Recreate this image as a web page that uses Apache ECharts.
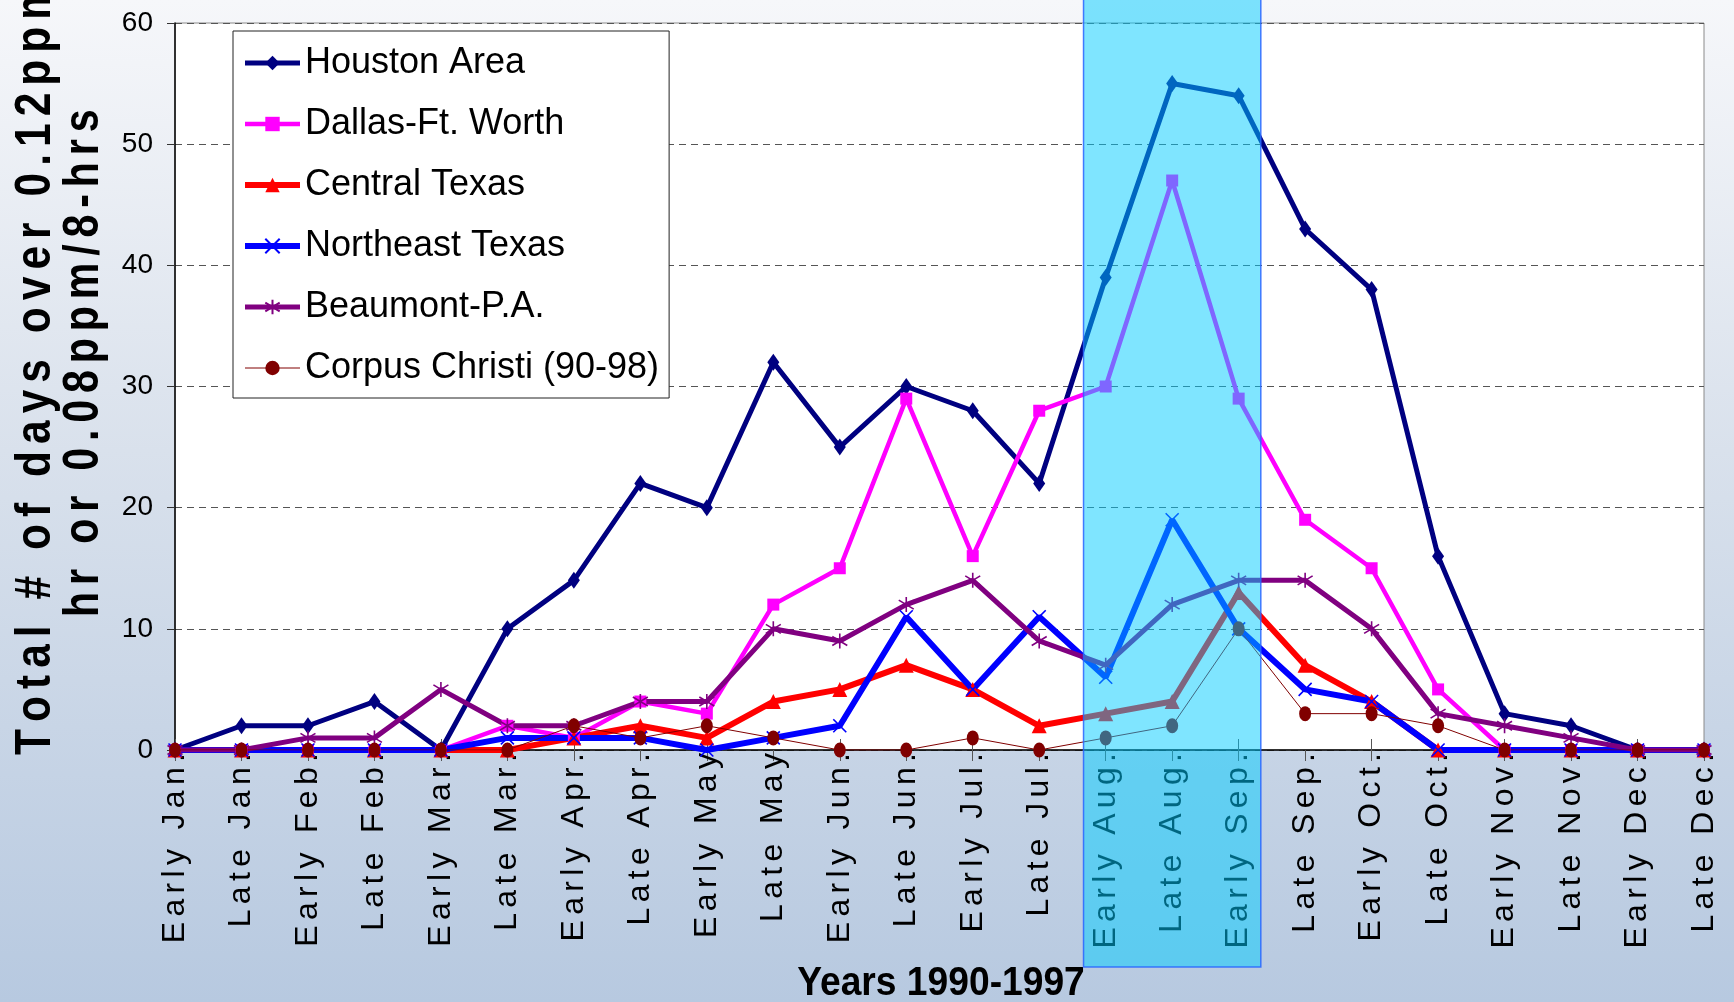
<!DOCTYPE html>
<html><head><meta charset="utf-8">
<script src="https://cdn.jsdelivr.net/npm/echarts@6/dist/echarts.min.js"></script>
<style>html,body{margin:0;padding:0;background:#fff;}#c{width:1734px;height:1002px;}</style>
</head><body><div id="c"></div>
<script>
const categories = ["Early Jan.","Late Jan.","Early Feb.","Late Feb.","Early Mar.","Late Mar.","Early Apr.","Late Apr.","Early May","Late May","Early Jun.","Late Jun.","Early Jul.","Late Jul.","Early Aug.","Late Aug.","Early Sep.","Late Sep.","Early Oct.","Late Oct.","Early Nov.","Late Nov.","Early Dec.","Late Dec."];
const houston   = [0,2,2,4,0,10,14,22,20,32,25,30,28,22,39,55,54,43,38,16,3,2,0,0];
const dallas    = [0,0,0,0,0,2,1,4,3,12,15,29,16,28,30,47,29,19,15,5,0,0,0,0];
const central   = [0,0,0,0,0,0,1,2,1,4,5,7,5,2,3,4,13,7,4,0,0,0,0,0];
const northeast = [0,0,0,0,0,1,1,1,0,1,2,11,5,11,6,19,10,5,4,0,0,0,0,0];
const beaumont  = [0,0,1,1,5,2,2,4,4,10,9,12,14,9,7,12,14,14,10,3,2,1,0,0];
const corpus    = [0,0,0,0,0,0,2,1,2,1,0,0,1,0,1,2,10,3,3,2,0,0,0,0];
const seriesNames = ["Houston Area","Dallas-Ft. Worth","Central Texas","Northeast Texas","Beaumont-P.A.","Corpus Christi (90-98)"];
const yTicks = [0,10,20,30,40,50,60];
const highlightCats = ["Early Aug.","Early Sep."];

const chart = echarts.init(document.getElementById('c'), null, {renderer:'canvas'});
const SP = '\u2006';
const spaced = s => s.split('').join(SP);
const FONT = '"Liberation Sans", Arial, sans-serif';

function mk(name, data, color, lw, symbol, size, stroke){
  return {
    name, type:'line', data, color,
    symbol, symbolSize:size, showSymbol:true, showAllSymbol:true,
    lineStyle:{color, width:lw},
    itemStyle:{color, borderColor:color, borderWidth: stroke ? 1.6 : 0},
    emphasis:{disabled:true}, animation:false, z:2
  };
}
const xPath = 'path://M0 0L10 10M10 0L0 10';
const starPath = 'path://M5 0L5 10M0.7 2L9.3 8M9.3 2L0.7 8';

const widths = [5, 4.5, 6, 6, 5, 1];
const series = [
  mk(seriesNames[0], houston, '#000080', widths[0], 'diamond', [12,17], false),
  mk(seriesNames[1], dallas, '#FF00FF', widths[1], 'rect', 12, false),
  mk(seriesNames[2], central, '#FF0000', widths[2], 'triangle', 15, false),
  mk(seriesNames[3], northeast, '#0000FF', widths[3], xPath, 13, true),
  mk(seriesNames[4], beaumont, '#800080', widths[4], starPath, 15, true),
  mk(seriesNames[5], corpus, '#800000', widths[5], 'circle', [12,15], false)
];

chart.setOption({
  backgroundColor: new echarts.graphic.LinearGradient(0,0,0,1,[{offset:0,color:'#F6F7FA'},{offset:0.45,color:'#D9E1EC'},{offset:1,color:'#B7C9E0'}]),
  animation:false,
  grid:{left:175, right:30, top:23, bottom:252, show:true, backgroundColor:'#ffffff', borderColor:'#8a8a8a', borderWidth:1},
  legend:{
    data: seriesNames.map((n,i)=>({name:n, lineStyle:{width: Math.max(widths[i], 1)}})),
    orient:'vertical', left:233, top:31,
    itemWidth:55, itemHeight:18, itemGap:25,
    padding:[14,10,12,9], backgroundColor:'#ffffff', borderColor:'#222', borderWidth:1,
    textStyle:{fontSize:36, color:'#000', fontFamily:FONT},
    selectedMode:false
  },
  xAxis:[{
    type:'category', data:categories, boundaryGap:false,
    axisLine:{lineStyle:{color:'#000', width:1.5}},
    axisTick:{show:true, inside:false, length:11, lineStyle:{color:'#555'}},
    axisLabel:{interval:0, rotate:90, margin:3, fontSize:32, color:'#000', fontFamily:FONT, formatter: v => spaced(v)},
    splitLine:{show:false}
  },{
    type:'category', data:categories, boundaryGap:false, position:'bottom',
    axisLine:{show:false},
    axisTick:{show:true, inside:true, length:11, lineStyle:{color:'#555'}},
    axisLabel:{show:false}, splitLine:{show:false}
  }],
  yAxis:{
    type:'value', min:yTicks[0], max:yTicks[yTicks.length-1], interval:10,
    axisLine:{show:true, lineStyle:{color:'#000', width:1.5}},
    axisTick:{show:true, length:8, lineStyle:{color:'#333'}},
    axisLabel:{fontSize:28, color:'#000', margin:22, fontFamily:FONT},
    splitLine:{show:true, lineStyle:{color:'#555', type:[7,5], width:1.2}}
  },
  series
});

const x0 = chart.convertToPixel({xAxisIndex:0}, highlightCats[0]);
const x1 = chart.convertToPixel({xAxisIndex:0}, highlightCats[1]);
const step = chart.convertToPixel({xAxisIndex:0}, categories[1]) - chart.convertToPixel({xAxisIndex:0}, categories[0]);
const rx0 = x0 - step/3, rx1 = x1 + step/3;

chart.setOption({
  graphic:[
    {type:'text', id:'yt1', x:36, y:755, rotation:Math.PI/2, scaleX:1.01, scaleY:1.2, z:50,
      style:{text:spaced('Total # of days over 0.12ppm/1-'), fontSize:42, fontWeight:'bold', fontFamily:FONT, fill:'#000', align:'left', verticalAlign:'middle'}},
    {type:'text', id:'yt2', x:84, y:617, rotation:Math.PI/2, scaleX:0.98, scaleY:1.2, z:50,
      style:{text:spaced('hr or 0.08ppm/8-hrs'), fontSize:42, fontWeight:'bold', fontFamily:FONT, fill:'#000', align:'left', verticalAlign:'middle'}},
    {type:'text', id:'xt', x:941, y:984, scaleX:0.93, z:50,
      style:{text:'Years 1990-1997', fontSize:40, fontWeight:'bold', fontFamily:FONT, fill:'#000', align:'center', verticalAlign:'middle'}},
    {type:'rect', id:'hl', z:100, silent:true,
      shape:{x:rx0, y:-2, width:rx1-rx0, height:969},
      style:{fill:'rgba(0,204,255,0.5)', stroke:'rgba(40,100,255,0.85)', lineWidth:1.5}}
  ]
});
</script>
</body></html>
